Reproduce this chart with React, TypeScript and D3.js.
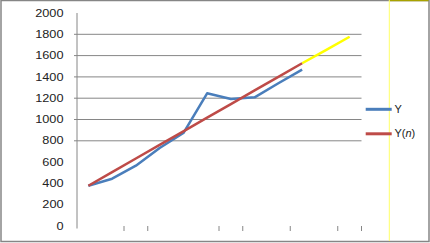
import React from "react";
import * as d3 from "d3";

const categories = ["1", "2", "3", "4", "5", "6", "7", "8", "9", "10", "11", "12"];
const yValues: (number | null)[] = [378, 444, 566, 732, 873, 1246, 1192, 1208, 1340, 1468, null, null];
const trendValues: (number | null)[] = [378, 506, 634, 761, 889, 1017, 1145, 1273, 1400, 1528, null, null];
const forecastValues: (number | null)[] = [null, null, null, null, null, null, null, null, null, 1528, 1652, 1777];
const yTickValues = [0, 200, 400, 600, 800, 1000, 1200, 1400, 1600, 1800, 2000];
const gridValues = [800, 1000, 1200, 1400, 1600, 1800];
const xTickBoundaries = [2, 3, 6, 7, 9, 11, 12];
const legendItems = [
  { key: "Y", color: "#4A7EBB" },
  { key: "Y(n)", color: "#BE4B48" },
];

const W = 430;
const H = 243;

export default function App() {
  const x = d3.scaleBand<string>().domain(categories).range([76.5, 361.5]).padding(0);
  const y = d3.scaleLinear().domain([0, 2000]).range([226, 13]);
  const cx = (i: number) => (x(categories[i]) as number) + x.bandwidth() / 2;

  const mk = (vals: (number | null)[]) =>
    d3
      .line<number | null>()
      .defined((d) => d !== null)
      .x((_, i) => cx(i))
      .y((d) => y(d as number))(vals) as string;

  const gray = "#868686";
  const font = "'Liberation Sans', Arial, sans-serif";

  return (
    <svg
      width={W}
      height={H}
      style={{ position: "fixed", left: 0, top: 0, background: "#fff" }}
    >
      <rect x={0} y={0} width={W} height={H} fill="#fff" />
      {/* outer border */}
      <rect x={1} y={0.5} width={428} height={241} fill="none" stroke={gray} strokeWidth={1.5} />
      <line x1={389.5} x2={428.5} y1={0.5} y2={0.5} stroke="#A8A200" strokeWidth={1.5} />
      <line x1={389.3} x2={389.3} y1={0} y2={241} stroke="#FFFF66" strokeWidth={1} />

      {/* gridlines */}
      {gridValues.map((v) => (
        <line key={v} x1={74} x2={361.5} y1={y(v)} y2={y(v)} stroke={gray} strokeWidth={1} />
      ))}

      {/* y axis */}
      <line x1={77} x2={77} y1={y(2000)} y2={228.5} stroke={gray} strokeWidth={1} />
      {yTickValues.map((v) => (
        <g key={v} transform={`translate(63.5,${y(v)}) scale(1.27,1)`}>
          <text textAnchor="end" dy="0.36em" fontSize={10} fontFamily={font} fill="#222">
            {v}
          </text>
        </g>
      ))}

      {/* x ticks */}
      {xTickBoundaries.map((k) => {
        const xx = x.range()[0] + k * x.step();
        return <line key={k} x1={xx} x2={xx} y1={226} y2={231} stroke={gray} strokeWidth={1} />;
      })}

      {/* series */}
      <path d={mk(forecastValues)} fill="none" stroke="#FFFF00" strokeWidth={2.5} />
      <path d={mk(yValues)} fill="none" stroke="#4A7EBB" strokeWidth={2.5} strokeLinejoin="round" />
      <path d={mk(trendValues)} fill="none" stroke="#BE4B48" strokeWidth={2.5} />

      {/* legend */}
      {legendItems.map((it, i) => {
        const ly = 109.3 + i * 24.5;
        return (
          <g key={it.key}>
            <line x1={365.7} x2={391.7} y1={ly} y2={ly} stroke={it.color} strokeWidth={3} />
            <g transform={`translate(394.5,${ly}) scale(1.1,1)`}>
              <text dy="0.36em" fontSize={10} fontFamily={font} fill="#222">
                {it.key === "Y" ? (
                  "Y"
                ) : (
                  <>
                    {"Y("}
                    <tspan fontStyle="italic">n</tspan>
                    {")"}
                  </>
                )}
              </text>
            </g>
          </g>
        );
      })}
    </svg>
  );
}
